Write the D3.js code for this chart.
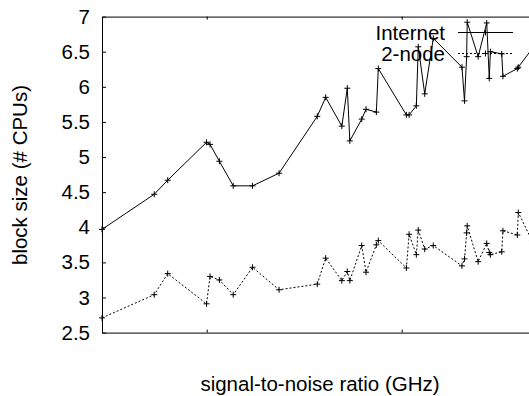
<!DOCTYPE html>
<html>
<head>
<meta charset="utf-8">
<script src="https://cdn.jsdelivr.net/npm/d3@7"></script>
<style>
  body { margin: 0; background: #fff; }
  svg { display: block; font-family: "Liberation Sans", Arial, sans-serif; }
</style>
</head>
<body>
<main></main>
<script>
// datos
const ghz = [4.63, 7.31, 8.0, 9.99, 10.17, 10.65, 11.36, 12.35, 13.71, 15.67, 16.10, 16.93,
  17.21, 17.34, 17.95, 18.17, 18.70, 18.80, 20.24, 20.38, 20.75, 20.85, 21.18, 21.62,
  23.09, 23.22, 23.33, 23.36, 23.92, 24.36, 24.49, 24.55, 25.13, 25.19, 25.93, 25.98, 26.68];

const internet = [3.97, 4.47, 4.67, 5.21, 5.18, 4.94, 4.59, 4.59, 4.77, 5.58, 5.85, 5.44,
  5.98, 5.23, 5.54, 5.68, 5.64, 6.26, 5.60, 5.60, 5.73, 6.57, 5.90, 6.69,
  6.28, 5.80, 6.43, 6.92, 6.43, 6.91, 6.12, 6.50, 6.47, 6.15, 6.26, 6.28, 6.54];

const twoNode = [2.71, 3.04, 3.34, 2.91, 3.30, 3.25, 3.04, 3.43, 3.11, 3.19, 3.56, 3.24,
  3.37, 3.24, 3.74, 3.36, 3.75, 3.81, 3.42, 3.90, 3.61, 3.96, 3.69, 3.74,
  3.45, 3.55, 3.92, 4.02, 3.51, 3.77, 3.64, 3.61, 3.65, 3.95, 3.89, 4.21, 3.81];

const seriesNames = ['Internet', '2-node'];
const xTicks = [10, 20, 30];
const yTicks = [2.5, 3, 3.5, 4, 4.5, 5, 5.5, 6, 6.5, 7];

const w = 529;
const h = 396;

const svg = d3.select('main')
    .append('svg')
    .attr('width', w)
    .attr('height', h);

// escalas (el lado derecho queda fuera de la ventana)
const x = d3.scaleLinear()
    .domain([4.63, 30])
    .range([102, 596.7]);

const y = d3.scaleLinear()
    .domain([2.5, 7])
    .range([332.6, 16.6]);

const fontSize = '20.5px';

// ejes izquierdo, abajo y arriba, ticks hacia dentro
svg.append('g')
    .attr('transform', `translate(${x.range()[0]},0)`)
    .call(d3.axisLeft(y).tickValues(yTicks).tickSizeInner(-4).tickSizeOuter(0).tickPadding(12)
        .tickFormat(d3.format('~g')))
    .call(g => g.selectAll('text').attr('font-size', fontSize).attr('fill', '#000').attr('font-family', null));

svg.append('g')
    .attr('transform', `translate(0,${y.range()[0]})`)
    .call(d3.axisBottom(x).tickValues(xTicks).tickSizeInner(-3).tickSizeOuter(0).tickFormat(''));

svg.append('g')
    .attr('transform', `translate(0,${y.range()[1]})`)
    .call(d3.axisTop(x).tickValues(xTicks).tickSizeInner(-3).tickSizeOuter(0).tickFormat(''));

svg.selectAll('.domain, .tick line')
    .attr('stroke', '#000')
    .attr('stroke-width', 1);

// titulos de los ejes
svg.append('text')
    .attr('x', 320)
    .attr('y', 391)
    .attr('text-anchor', 'middle')
    .attr('font-size', fontSize)
    .text('signal-to-noise ratio (GHz)');

svg.append('text')
    .attr('transform', 'translate(27,175) rotate(-90)')
    .attr('text-anchor', 'middle')
    .attr('font-size', fontSize)
    .text('block size (# CPUs)');

// series
const series = [
    { name: seriesNames[0], values: internet, dash: null },
    { name: seriesNames[1], values: twoNode, dash: '2,2' }
];

const linea = d3.line()
    .x((d, i) => x(ghz[i]))
    .y(d => y(d));

// marcador "+"
function plus(g) {
    g.append('path').attr('d', 'M-3,0H3M0,-3V3')
        .attr('stroke', '#000').attr('stroke-width', 1).attr('fill', 'none');
}

series.forEach(s => {
    svg.append('path')
        .datum(s.values)
        .attr('d', linea)
        .attr('fill', 'none')
        .attr('stroke', '#000')
        .attr('stroke-width', 1)
        .attr('stroke-dasharray', s.dash);

    svg.append('g')
        .selectAll('g')
        .data(s.values)
        .enter()
        .append('g')
        .attr('transform', (d, i) => `translate(${x(ghz[i])},${y(d)})`)
        .each(function () { plus(d3.select(this)); });
});

// leyenda
const leyenda = svg.append('g');

series.forEach((s, i) => {
    const ly = 32.5 + i * 21;
    leyenda.append('text')
        .attr('x', 445)
        .attr('y', ly + 7.5)
        .attr('text-anchor', 'end')
        .attr('font-size', fontSize)
        .text(s.name);
    leyenda.append('line')
        .attr('x1', 458).attr('x2', 513)
        .attr('y1', ly).attr('y2', ly)
        .attr('stroke', '#000')
        .attr('stroke-width', 1)
        .attr('stroke-dasharray', s.dash);
    const m = leyenda.append('g').attr('transform', `translate(485.5,${ly})`);
    plus(m);
});
</script>
</body>
</html>
